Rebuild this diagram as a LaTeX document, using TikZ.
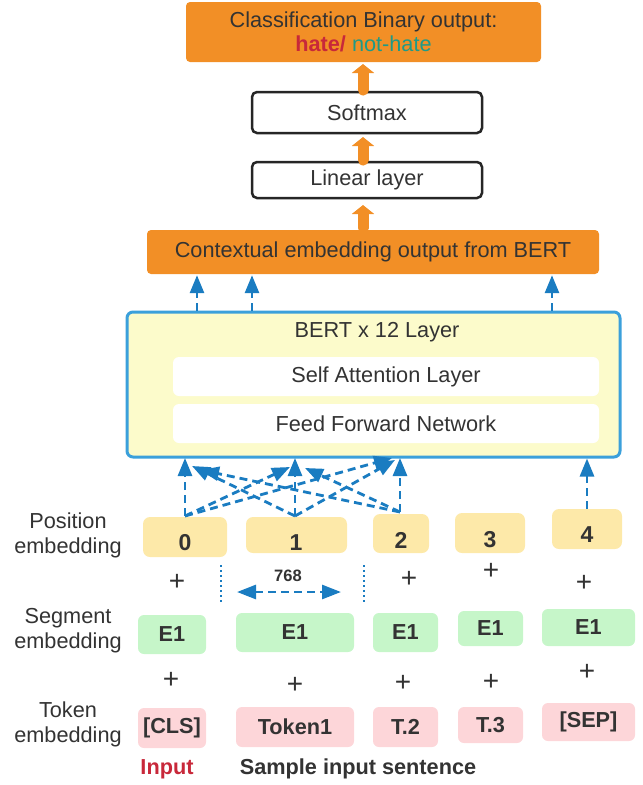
\documentclass[tikz,border=0pt]{standalone}
\usepackage{fontspec}
\setmainfont{Liberation Sans}
\usetikzlibrary{arrows.meta}
\definecolor{txt}{HTML}{333333}
\definecolor{orng}{HTML}{F28F26}
\definecolor{bertfill}{HTML}{FCFBCB}
\definecolor{bertline}{HTML}{3BA0DB}
\definecolor{arrblue}{HTML}{1A7CC1}
\definecolor{posfill}{HTML}{FDE9A9}
\definecolor{segfill}{HTML}{C6F6C9}
\definecolor{tokfill}{HTML}{FDD6D9}
\definecolor{hatered}{HTML}{C8283A}
\definecolor{nothate}{HTML}{1E9A88}
\tikzset{
  base/.style={font=\fontsize{21.7}{25}\selectfont, text=txt, inner sep=0pt},
  orangebox/.style={base, fill=orng, rounded corners=4pt},
  whitebox/.style={base, draw=black!85, line width=2.5pt, fill=white, rounded corners=5pt},
  bertbox/.style={base, draw=bertline, line width=3pt, fill=bertfill, rounded corners=6pt},
  innerbox/.style={base, fill=white, rounded corners=6pt},
  posbox/.style={fill=posfill, rounded corners=7pt, inner sep=0pt},
  segbox/.style={base, font=\fontsize{21.7}{25}\selectfont\bfseries, fill=segfill, rounded corners=6pt},
  tokbox/.style={base, font=\fontsize{21.7}{25}\selectfont\bfseries, fill=tokfill, rounded corners=6pt},
  numlbl/.style={base, font=\fontsize{23}{25}\selectfont\bfseries},
  pluslbl/.style={base, font=\fontsize{28}{28}\selectfont},
  sidelbl/.style={base, align=center},
  fatarrow/.style={draw=orng, line width=11pt, line cap=round, -{Triangle[width=22pt,length=9pt]}},
  dasharrow/.style={draw=arrblue, line width=2.8pt, dash pattern=on 8pt off 5pt, -{Triangle[width=14pt,length=18pt]}},
  dotline/.style={draw=arrblue, line width=2pt, dash pattern=on 2pt off 3pt},
}
\begin{document}
\begin{tikzpicture}[x=1pt,y=-1pt]
\useasboundingbox (0,0) rectangle (643,785);
% top output
\node[orangebox, minimum width=355pt, minimum height=60pt, align=center] (out) at (363.5,32)
  {Classification Binary output:\\[-1pt]{\color{hatered}\bfseries hate/} {\color{nothate}not-hate}};
\node[whitebox, minimum width=230pt, minimum height=41pt] (soft) at (367,112.5) {Softmax};
\node[whitebox, minimum width=230pt, minimum height=36pt] (lin) at (367,180) {Linear layer};
\node[orangebox, minimum width=452pt, minimum height=44pt] (ctx) at (373,252) {Contextual embedding output from BERT};
% fat arrows
\coordinate (fa1) at (363,90); \coordinate (fa1t) at (363,64);
\coordinate (fa2) at (363,160); \coordinate (fa2t) at (363,137);
\coordinate (fa3) at (363,228); \coordinate (fa3t) at (363,205);
\draw[fatarrow] (fa1) -- (fa1t);
\draw[fatarrow] (fa2) -- (fa2t);
\draw[fatarrow] (fa3) -- (fa3t);
% BERT
\node[bertbox, minimum width=493pt, minimum height=145pt] (bert) at (373.5,384.5) {};
\node[base] (berttitle) at (377,332) {BERT x 12 Layer};
\node[innerbox, minimum width=426pt, minimum height=39pt] (self) at (386,376.5) {Self Attention Layer};
\node[innerbox, minimum width=426pt, minimum height=39pt] (ffn) at (386,423.5) {Feed Forward Network};
% arrows BERT -> ctx
\foreach \xx [count=\i] in {197,252,552} {
  \coordinate (up\i) at (\xx,0);
  \draw[dasharrow] (bert.north -| up\i) -- ([yshift=-1pt]ctx.south -| up\i);
}
% position boxes
\node[posbox, minimum width=84pt, minimum height=40pt] (p0) at (185,537) {};
\node[posbox, minimum width=101pt, minimum height=36pt] (p1) at (296.5,535) {};
\node[posbox, minimum width=56pt, minimum height=39pt] (p2) at (401,533.5) {};
\node[posbox, minimum width=70pt, minimum height=40pt] (p3) at (490,533) {};
\node[posbox, minimum width=70pt, minimum height=40pt] (p4) at (587,529) {};
\node[numlbl] (n0) at (185,543) {0};
\node[numlbl] (n1) at (296,543) {1};
\node[numlbl] (n2) at (401,540) {2};
\node[numlbl] (n3) at (490,540) {3};
\node[numlbl] (n4) at (587,535) {4};
% dashed attention arrows
\coordinate (a00) at (185,458); \coordinate (a01) at (290,467); \coordinate (a02) at (392,458);
\coordinate (a10) at (192,466); \coordinate (a11) at (295,458); \coordinate (a12) at (395,460);
\coordinate (a20) at (201,470); \coordinate (a21) at (305,468); \coordinate (a22) at (400,458);
\coordinate (s0) at (185,516); \coordinate (s1) at (295,516); \coordinate (s2) at (400,512);
\draw[dasharrow] (s0) -- (a00);
\draw[dasharrow] (s0) -- (a01);
\draw[dasharrow] (s0) -- (a02);
\draw[dasharrow] (s1) -- (a10);
\draw[dasharrow] (s1) -- (a11);
\draw[dasharrow] (s1) -- (a12);
\draw[dasharrow] (s2) -- (a20);
\draw[dasharrow] (s2) -- (a21);
\draw[dasharrow] (s2) -- (a22);
\draw[dasharrow] (p4.north) -- (bert.south -| p4.north);
% 768 dimension
\coordinate (dl1) at (221,565); \coordinate (dl2) at (221,603);
\coordinate (dr1) at (364,565); \coordinate (dr2) at (364,603);
\draw[dotline] (dl1) -- (dl2);
\draw[dotline] (dr1) -- (dr2);
\coordinate (d1) at (237,592); \coordinate (d2) at (341,592);
\draw[draw=arrblue, line width=2.8pt, dash pattern=on 8pt off 5pt, {Triangle[width=14pt,length=19pt]}-{Triangle[width=14pt,length=19pt]}] (d1) -- (d2);
\node[base, font=\fontsize{16.5}{18}\selectfont\bfseries] (dim) at (288,576) {768};
% plus signs row 1
\node[pluslbl] (q1) at (177,582) {+};
\node[pluslbl] (q2) at (409,579) {+};
\node[pluslbl] (q3) at (491,571) {+};
\node[pluslbl] (q4) at (584,583) {+};
% segment boxes
\node[segbox, minimum width=68pt, minimum height=39pt] (g0) at (172,634.5) {E1};
\node[segbox, minimum width=118pt, minimum height=39pt] (g1) at (295,632.5) {E1};
\node[segbox, minimum width=65pt, minimum height=39pt] (g2) at (405.5,632.5) {E1};
\node[segbox, minimum width=65pt, minimum height=35pt] (g3) at (490.5,628.5) {E1};
\node[segbox, minimum width=93pt, minimum height=37pt] (g4) at (588.5,627.5) {E1};
% plus signs row 2
\node[pluslbl] (r1) at (171,680) {+};
\node[pluslbl] (r2) at (295,685) {+};
\node[pluslbl] (r3) at (403,683) {+};
\node[pluslbl] (r4) at (491,682) {+};
\node[pluslbl] (r5) at (587,672) {+};
% token boxes
\node[tokbox, minimum width=68pt, minimum height=40pt] (t0) at (172,728) {[CLS]};
\node[tokbox, minimum width=118pt, minimum height=40pt] (t1) at (295,727) {Token1};
\node[tokbox, minimum width=65pt, minimum height=40pt] (t2) at (405.5,727) {T.2};
\node[tokbox, minimum width=65pt, minimum height=36pt] (t3) at (490.5,725) {T.3};
\node[tokbox, minimum width=93pt, minimum height=38pt] (t4) at (588.5,722) {[SEP]};
% bottom labels
\node[base, font=\fontsize{21.7}{25}\selectfont\bfseries, text=hatered] (inp) at (167,769) {Input};
\node[base, font=\fontsize{21.7}{25}\selectfont\bfseries] (sample) at (358,769) {Sample input sentence};
% side labels
\node[sidelbl] (lp) at (68,535.5) {Position\\embedding};
\node[sidelbl] (ls) at (68,630.5) {Segment\\embedding};
\node[sidelbl] (lt) at (68,724.5) {Token\\embedding};
\end{tikzpicture}
\end{document}
